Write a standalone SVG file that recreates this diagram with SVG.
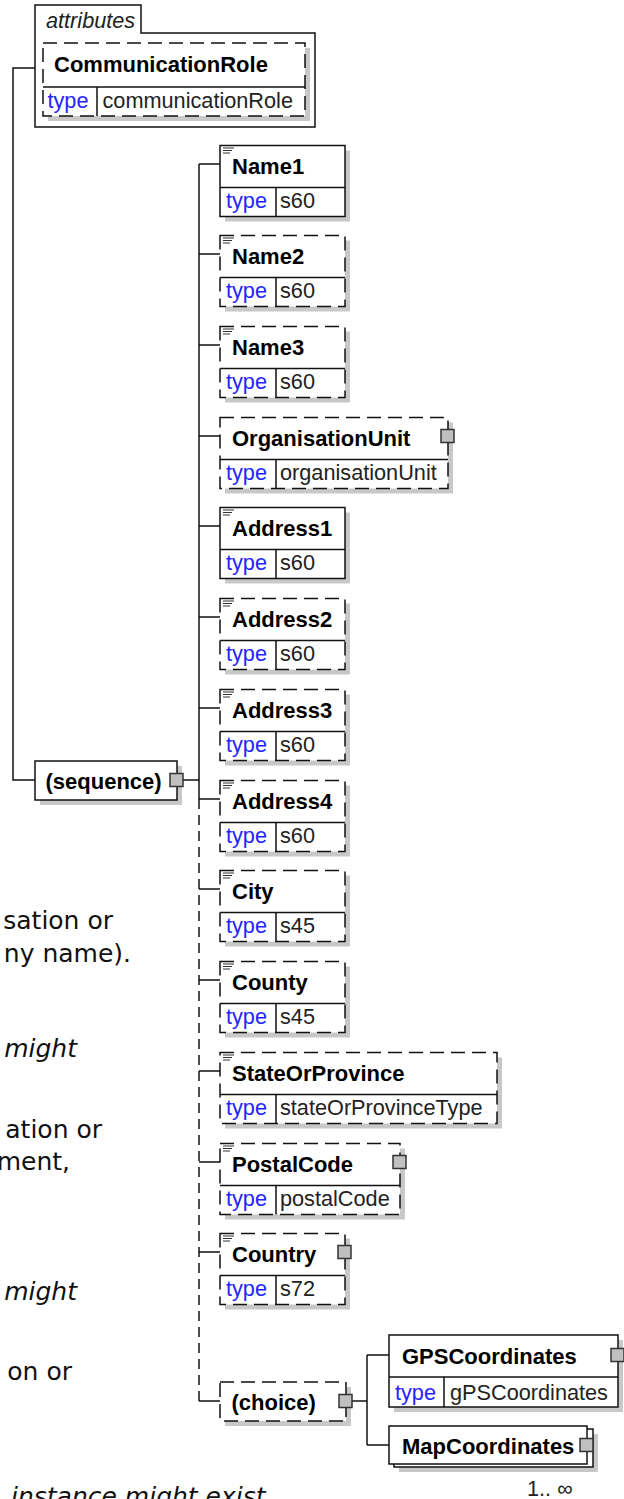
<svg xmlns="http://www.w3.org/2000/svg" width="624" height="1499" viewBox="0 0 624 1499">
<style>
.box{fill:#fff;stroke:#111;stroke-width:1.5}
.opt{stroke-dasharray:14 7}
.sh{fill:#c8c8c8}
.ln{fill:none;stroke:#111;stroke-width:1.5}
.dl{fill:none;stroke:#111;stroke-width:1.5;stroke-dasharray:10 6}
.ic{fill:none;stroke:#333;stroke-width:1.2}
.sq{fill:#c0c0c0;stroke:#333;stroke-width:1.5}
.lbl{font-family:"Liberation Sans",Arial,sans-serif;font-weight:bold;font-size:22px;fill:#000}
.tk{font-family:"Liberation Sans",Arial,sans-serif;font-size:21.7px;fill:#2424ff}
.tv{font-family:"Liberation Sans",Arial,sans-serif;font-size:21.7px;fill:#222}
.it{font-family:"Liberation Sans",Arial,sans-serif;font-style:italic;font-size:21.7px;fill:#222}
.doc{font-family:"DejaVu Sans",Verdana,sans-serif;font-size:25px;fill:#111}
.doci{font-family:"DejaVu Sans",Verdana,sans-serif;font-size:25px;font-style:italic;fill:#111}
</style>

<g id="doc-text">
<text class="doc" x="113" y="929" text-anchor="end">sation or</text>
<text class="doc" x="131" y="962" text-anchor="end">ny name).</text>
<text class="doci" x="77" y="1057" text-anchor="end">might</text>
<text class="doc" x="102" y="1138" text-anchor="end">ation or</text>
<text class="doc" x="70" y="1170" text-anchor="end">ment,</text>
<text class="doci" x="77" y="1300" text-anchor="end">might</text>
<text class="doc" x="72" y="1380" text-anchor="end">on or</text>
<text class="doci" x="11" y="1505">instance might exist</text>
</g>

<g id="connectors">
<path class="ln" d="M35 68 H13 V780 H35"/>
<path class="ln" d="M183 780 H199"/>
<path class="ln" d="M199 164 V799"/>
<path class="dl" d="M199 799 V1401"/>
<path class="ln" d="M199 164 H220 M199 254 H220 M199 345 H220 M199 436 H220 M199 526 H220 M199 617 H220 M199 708 H220 M199 799 H220 M199 889 H220 M199 980 H220 M199 1071 H220 M199 1162 H220 M199 1252 H220 M199 1401 H220"/>
<path class="ln" d="M352 1401 H367 M367 1355 V1445 M367 1355 H389 M367 1445 H389"/>
</g>

<g id="attributes">
<path class="ln" d="M35 127 V5 H141 V33 H315 V127 Z"/>
<text class="it" x="46" y="28">attributes</text>
</g>

<g id="CommunicationRole">
<rect class="sh" x="48" y="48" width="262" height="73"/>
<rect class="box opt" x="43" y="43" width="262" height="73"/>
<path class="ln" d="M43 87 H305 M97 87 V116"/>
<text class="lbl" x="54" y="72">CommunicationRole</text>
<text class="tk" x="47.5" y="108">type</text>
<text class="tv" x="102.5" y="108">communicationRole</text>
</g>

<g id="sequence">
<rect class="sh" x="40" y="766" width="142" height="39"/>
<rect class="box" x="35" y="761" width="142" height="39"/>
<rect class="sq" x="170" y="773.5" width="13" height="13"/>
<text class="lbl" x="45.5" y="789">(sequence)</text>
</g>

<g id="Name1">
<rect class="sh" x="225" y="150.5" width="125" height="71"/>
<rect class="box" x="220" y="145.5" width="125" height="71"/>
<path class="ln" d="M220 187.5 H345 M276 187.5 V216.5"/>
<path class="ic" d="M223 148 h11 M223 150.5 h9 M223 153 h7"/>
<text class="lbl" x="232" y="174">Name1</text>
<text class="tk" x="226" y="208">type</text>
<text class="tv" x="280" y="208">s60</text>
</g>

<g id="Name2">
<rect class="sh" x="225" y="240.5" width="125" height="71"/>
<rect class="box opt" x="220" y="235.5" width="125" height="71"/>
<path class="ln" d="M220 277.5 H345 M276 277.5 V306.5"/>
<path class="ic" d="M223 238 h11 M223 240.5 h9 M223 243 h7"/>
<text class="lbl" x="232" y="264">Name2</text>
<text class="tk" x="226" y="298">type</text>
<text class="tv" x="280" y="298">s60</text>
</g>

<g id="Name3">
<rect class="sh" x="225" y="331.5" width="125" height="71"/>
<rect class="box opt" x="220" y="326.5" width="125" height="71"/>
<path class="ln" d="M220 368.5 H345 M276 368.5 V397.5"/>
<path class="ic" d="M223 329 h11 M223 331.5 h9 M223 334 h7"/>
<text class="lbl" x="232" y="355">Name3</text>
<text class="tk" x="226" y="389">type</text>
<text class="tv" x="280" y="389">s60</text>
</g>

<g id="OrganisationUnit">
<rect class="sh" x="225" y="422.5" width="228" height="71"/>
<rect class="box opt" x="220" y="417.5" width="228" height="71"/>
<path class="ln" d="M220 459.5 H448 M276 459.5 V488.5"/>
<rect class="sq" x="441" y="429.5" width="13" height="13"/>
<text class="lbl" x="232" y="446">OrganisationUnit</text>
<text class="tk" x="226" y="480">type</text>
<text class="tv" x="280" y="480">organisationUnit</text>
</g>

<g id="Address1">
<rect class="sh" x="225" y="512.5" width="125" height="71"/>
<rect class="box" x="220" y="507.5" width="125" height="71"/>
<path class="ln" d="M220 549.5 H345 M276 549.5 V578.5"/>
<path class="ic" d="M223 510 h11 M223 512.5 h9 M223 515 h7"/>
<text class="lbl" x="232" y="536">Address1</text>
<text class="tk" x="226" y="570">type</text>
<text class="tv" x="280" y="570">s60</text>
</g>

<g id="Address2">
<rect class="sh" x="225" y="603.5" width="125" height="71"/>
<rect class="box opt" x="220" y="598.5" width="125" height="71"/>
<path class="ln" d="M220 640.5 H345 M276 640.5 V669.5"/>
<path class="ic" d="M223 601 h11 M223 603.5 h9 M223 606 h7"/>
<text class="lbl" x="232" y="627">Address2</text>
<text class="tk" x="226" y="661">type</text>
<text class="tv" x="280" y="661">s60</text>
</g>

<g id="Address3">
<rect class="sh" x="225" y="694.5" width="125" height="71"/>
<rect class="box opt" x="220" y="689.5" width="125" height="71"/>
<path class="ln" d="M220 731.5 H345 M276 731.5 V760.5"/>
<path class="ic" d="M223 692 h11 M223 694.5 h9 M223 697 h7"/>
<text class="lbl" x="232" y="718">Address3</text>
<text class="tk" x="226" y="752">type</text>
<text class="tv" x="280" y="752">s60</text>
</g>

<g id="Address4">
<rect class="sh" x="225" y="785.5" width="125" height="71"/>
<rect class="box opt" x="220" y="780.5" width="125" height="71"/>
<path class="ln" d="M220 822.5 H345 M276 822.5 V851.5"/>
<path class="ic" d="M223 783 h11 M223 785.5 h9 M223 788 h7"/>
<text class="lbl" x="232" y="809">Address4</text>
<text class="tk" x="226" y="843">type</text>
<text class="tv" x="280" y="843">s60</text>
</g>

<g id="City">
<rect class="sh" x="225" y="875.5" width="125" height="71"/>
<rect class="box opt" x="220" y="870.5" width="125" height="71"/>
<path class="ln" d="M220 912.5 H345 M276 912.5 V941.5"/>
<path class="ic" d="M223 873 h11 M223 875.5 h9 M223 878 h7"/>
<text class="lbl" x="232" y="899">City</text>
<text class="tk" x="226" y="933">type</text>
<text class="tv" x="280" y="933">s45</text>
</g>

<g id="County">
<rect class="sh" x="225" y="966.5" width="125" height="71"/>
<rect class="box opt" x="220" y="961.5" width="125" height="71"/>
<path class="ln" d="M220 1003.5 H345 M276 1003.5 V1032.5"/>
<path class="ic" d="M223 964 h11 M223 966.5 h9 M223 969 h7"/>
<text class="lbl" x="232" y="990">County</text>
<text class="tk" x="226" y="1024">type</text>
<text class="tv" x="280" y="1024">s45</text>
</g>

<g id="StateOrProvince">
<rect class="sh" x="225" y="1057.5" width="277" height="71"/>
<rect class="box opt" x="220" y="1052.5" width="277" height="71"/>
<path class="ln" d="M220 1094.5 H497 M276 1094.5 V1123.5"/>
<path class="ic" d="M223 1055 h11 M223 1057.5 h9 M223 1060 h7"/>
<text class="lbl" x="232" y="1081">StateOrProvince</text>
<text class="tk" x="226" y="1115">type</text>
<text class="tv" x="280" y="1115">stateOrProvinceType</text>
</g>

<g id="PostalCode">
<rect class="sh" x="225" y="1148.5" width="180" height="71"/>
<rect class="box opt" x="220" y="1143.5" width="180" height="71"/>
<path class="ln" d="M220 1185.5 H400 M276 1185.5 V1214.5"/>
<path class="ic" d="M223 1146 h11 M223 1148.5 h9 M223 1151 h7"/>
<rect class="sq" x="393" y="1155.5" width="13" height="13"/>
<text class="lbl" x="232" y="1172">PostalCode</text>
<text class="tk" x="226" y="1206">type</text>
<text class="tv" x="280" y="1206">postalCode</text>
</g>

<g id="Country">
<rect class="sh" x="225" y="1238.5" width="125" height="71"/>
<rect class="box opt" x="220" y="1233.5" width="125" height="71"/>
<path class="ln" d="M220 1275.5 H345 M276 1275.5 V1304.5"/>
<path class="ic" d="M223 1236 h11 M223 1238.5 h9 M223 1241 h7"/>
<rect class="sq" x="338" y="1245.5" width="13" height="13"/>
<text class="lbl" x="232" y="1262">Country</text>
<text class="tk" x="226" y="1296">type</text>
<text class="tv" x="280" y="1296">s72</text>
</g>

<g id="choice">
<rect class="sh" x="225" y="1387" width="126" height="39"/>
<rect class="box opt" x="220" y="1382" width="126" height="39"/>
<rect class="sq" x="339" y="1394.5" width="13" height="13"/>
<text class="lbl" x="231.5" y="1410">(choice)</text>
</g>

<g id="GPSCoordinates">
<rect class="sh" x="394" y="1340" width="229" height="72"/>
<rect class="box" x="389" y="1335" width="229" height="72"/>
<path class="ln" d="M389 1377 H618 M444 1377 V1407"/>
<rect class="sq" x="611" y="1348.5" width="13" height="13"/>
<text class="lbl" x="402" y="1364">GPSCoordinates</text>
<text class="tk" x="395" y="1400">type</text>
<text class="tv" x="450" y="1400">gPSCoordinates</text>
</g>

<g id="MapCoordinates">
<rect class="sh" x="399" y="1434" width="199" height="38"/>
<rect class="box" x="394" y="1429" width="199" height="38"/>
<rect class="box" x="389" y="1426" width="198" height="38"/>
<rect class="sq" x="580" y="1438.5" width="13" height="13"/>
<text class="lbl" x="402" y="1454">MapCoordinates</text>
<text class="tv" x="527" y="1496">1.. ∞</text>
</g>
</svg>
